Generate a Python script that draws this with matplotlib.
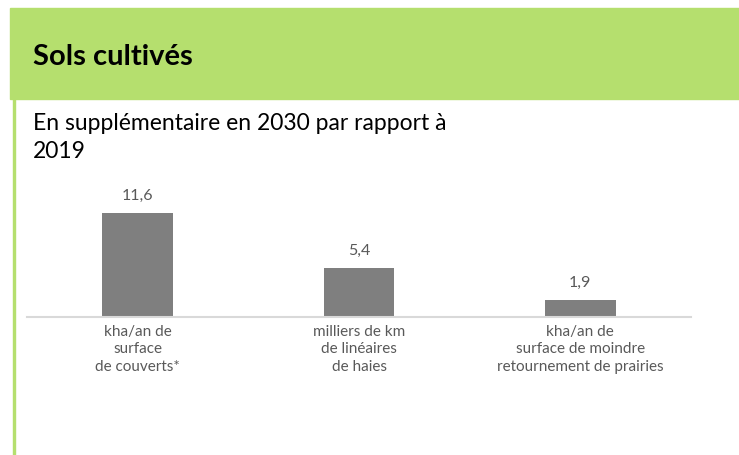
import matplotlib.pyplot as plt
from matplotlib.patches import Rectangle

categories = ['kha/an de\nsurface\nde couverts*',
              'milliers de km\nde linéaires\nde haies',
              'kha/an de\nsurface de moindre\nretournement de prairies']
values = [11.6, 5.4, 1.9]
value_labels = ['11,6', '5,4', '1,9']

green = '#B5DF6E'
bar_gray = '#7F7F7F'
text_gray = '#595959'

plt.rcParams['font.family'] = ['Lato', 'DejaVu Sans']

W, H = 739, 456
fig = plt.figure(figsize=(W / 100, H / 100), dpi=100)

# green header band and left border
fig.patches.append(Rectangle((10 / W, 1 - 100 / H), 1, 91 / H, transform=fig.transFigure,
                             color=green, zorder=0))
fig.patches.append(Rectangle((13 / W, 0), 2 / W, 1 - 100 / H, transform=fig.transFigure,
                             color=green, zorder=0))

fig.text(33 / W, 1 - 57 / H, 'Sols cultivés', fontsize=21, fontweight='bold',
         color='black', va='center', ha='left')
fig.text(33 / W, 1 - 123 / H, 'En supplémentaire en 2030 par rapport à', fontsize=16.5,
         color='black', va='center', ha='left')
fig.text(33 / W, 1 - 152 / H, '2019', fontsize=16.5, color='black', va='center', ha='left')

ax = fig.add_axes([27 / W, (H - 318) / H, 664 / W, 130 / H])
x = range(len(values))
ax.bar(x, values, width=0.32, color=bar_gray, zorder=2)
ax.set_xlim(-0.5, 2.5)
ax.set_ylim(0, 130 / 9.0)

for i, v in enumerate(values):
    ax.annotate(value_labels[i], xy=(i, v), xytext=(0, 8), textcoords='offset points',
                ha='center', va='bottom', fontsize=11.5, color=text_gray)

for s in ['top', 'right', 'left']:
    ax.spines[s].set_visible(False)
ax.spines['bottom'].set_color('#D9D9D9')
ax.spines['bottom'].set_linewidth(1.5)
ax.set_yticks([])
ax.set_xticks(list(x))
ax.set_xticklabels(categories, fontsize=11, color=text_gray, linespacing=1.3)
ax.tick_params(axis='x', length=0, pad=5)
ax.patch.set_alpha(0)

fig.savefig('out.png', dpi=100)
